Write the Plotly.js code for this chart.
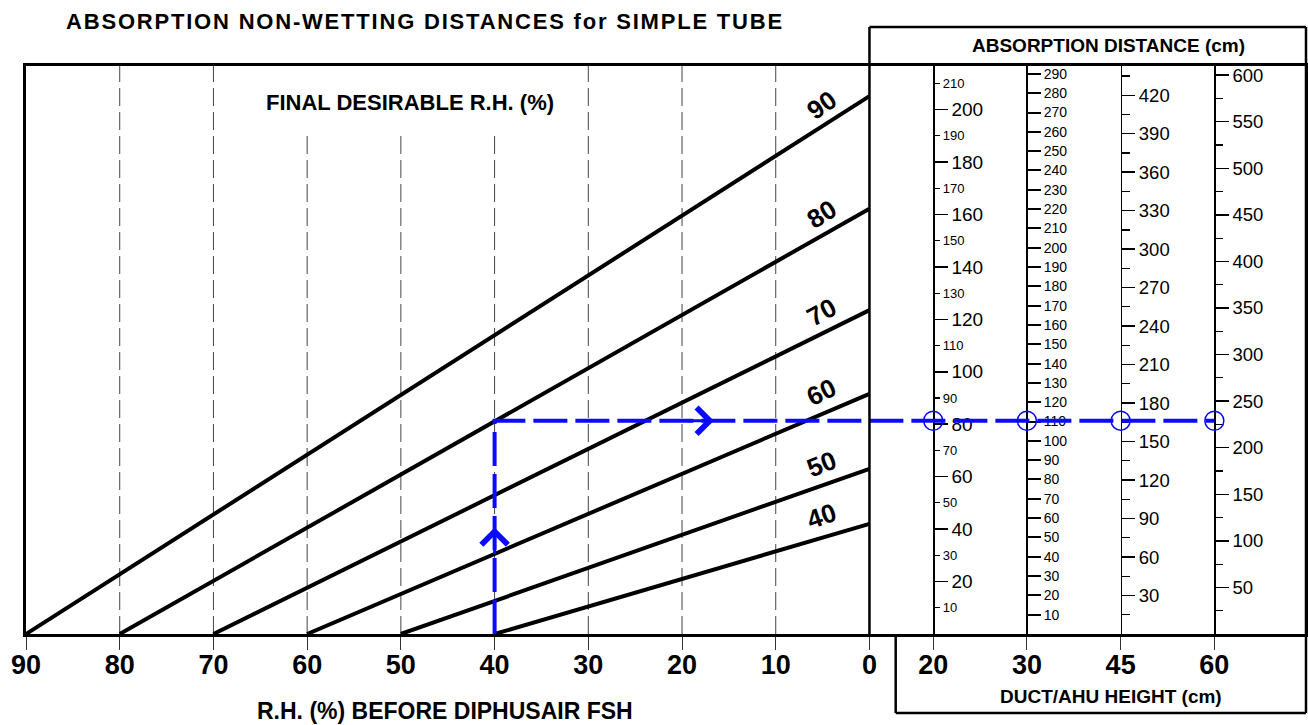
<!DOCTYPE html>
<html><head><meta charset="utf-8">
<script src="https://cdn.plot.ly/plotly-3.0.1.min.js"></script>
<style>html,body{margin:0;padding:0;background:#fff;}#chart{width:1308px;height:725px;}</style>
</head><body><div id="chart"></div>
<script>
// ---------------- data ----------------
const finalRH     = [90, 80, 70, 60, 50, 40];                 // FINAL DESIRABLE R.H. (%)
const distAtZero  = [205.1, 162.2, 123.5, 91.6, 63.0, 42.0];  // 20 cm scale value reached at R.H. before = 0
const rhTicks     = [90, 80, 70, 60, 50, 40, 30, 20, 10, 0];
const gridRH      = [80, 70, 60, 50, 40, 30, 20, 10];
const ductHeights = [20, 30, 45, 60];
const exampleRH   = 40;                                        // worked example: R.H. before
const exampleReadings = [81.3, 110.4, 166.3, 229.0];           // absorption distance on each duct scale
const scale20Major = [20, 40, 60, 80, 100, 120, 140, 160, 180, 200];
const scale20Minor = [10, 30, 50, 70, 90, 110, 130, 150, 170, 190, 210];
const scale30Ticks = [10,20,30,40,50,60,70,80,90,100,110,120,130,140,150,160,170,180,190,200,210,220,230,240,250,260,270,280,290];
const scale45Major = [30,60,90,120,150,180,210,240,270,300,330,360,390,420];
const scale45Minor = [15,45,75,105,135,165,195,225,255,285,315,345,375,405,435];
const scale60Major = [50,100,150,200,250,300,350,400,450,500,550,600];
const scale60Minor = [25,75,125,175,225,275,325,375,425,475,525,575];

// ---------------- layout constants ----------------
const FONT = '"Liberation Sans", Arial, Helvetica, sans-serif';
const BLUE = '#0a0aff';
const X_RANGE = [90, -46.58];
const SCALE_X = [-6.8, -16.8, -26.8, -36.8];          // where the duct scales stand on the x axis
const SCALE_TOP = [216.6, 294.1, 442.8, 609.8];        // top of each duct scale
const W = 1280, H = 568;
const xSpan = X_RANGE[0] - X_RANGE[1];
const paperX = v => (X_RANGE[0] - v) / xSpan;
const pxPerX = W / xSpan, pxPerY = H / SCALE_TOP[0];

const traces = [];
finalRH.forEach((f, i) => {
  traces.push({type: 'scatter', mode: 'lines', x: [f, 0], y: [0, distAtZero[i]],
    line: {color: '#000', width: 4}, hoverinfo: 'skip', showlegend: false});
});
// worked-example path (drawn against the 20 cm scale, which shares the main y range)
traces.push({type: 'scatter', mode: 'lines', yaxis: 'y2',
  x: [exampleRH, exampleRH, SCALE_X[3]], y: [0, exampleReadings[0], exampleReadings[0]],
  line: {color: BLUE, width: 4, dash: '34px,8px'}, hoverinfo: 'skip', showlegend: false});
// reading circles on each duct scale
const circleAxes = ['y6', 'y3', 'y4', 'y5'];
exampleReadings.forEach((r, i) => {
  traces.push({type: 'scatter', mode: 'markers', x: [SCALE_X[i]], y: [r], yaxis: circleAxes[i],
    marker: {symbol: 'circle-open', size: 19, color: BLUE, line: {width: 1.5, color: BLUE}},
    hoverinfo: 'skip', showlegend: false});
});

const baseScale = (i, extra) => Object.assign({
  overlaying: 'y', anchor: 'free', position: paperX(SCALE_X[i]), side: 'right',
  range: [0, SCALE_TOP[i]], showline: true, linecolor: '#000', linewidth: 1.5,
  ticks: 'outside', ticklen: 13, tickwidth: 1.5, tickcolor: '#000', tickmode: 'array',
  showgrid: false, zeroline: false, layer: 'below traces', fixedrange: true,
  tickfont: {family: FONT, size: 19, color: '#000'}
}, extra);

const shapes = [];
gridRH.forEach(v => {
  shapes.push({type: 'line', xref: 'x', yref: 'paper', x0: v, x1: v, y0: 0,
    y1: (v <= 60 && v >= 40) ? 0.887 : 1, layer: 'below',
    line: {color: '#444', width: 1, dash: '18px,6px'}});
});
const yHead = 1 + 39 / H, yDuct = -79 / H, xDuct = (895.7 - 26) / W;
shapes.push({type: 'line', xref: 'paper', yref: 'paper', x0: paperX(0), x1: paperX(0), y0: 0, y1: yHead, line: {color: '#000', width: 2.5}});
shapes.push({type: 'line', xref: 'paper', yref: 'paper', x0: paperX(0), x1: 1, y0: yHead, y1: yHead, line: {color: '#000', width: 2.5}});
shapes.push({type: 'line', xref: 'paper', yref: 'paper', x0: 1, x1: 1, y0: yDuct, y1: yHead, line: {color: '#000', width: 2.5}});
shapes.push({type: 'line', xref: 'paper', yref: 'paper', x0: xDuct, x1: xDuct, y0: 0, y1: yDuct, line: {color: '#000', width: 2.5}});
shapes.push({type: 'line', xref: 'paper', yref: 'paper', x0: xDuct, x1: 1, y0: yDuct, y1: yDuct, line: {color: '#000', width: 2.5}});

const annotations = [];
const labelAt = 5.1;
finalRH.forEach((f, i) => {
  const yv = distAtZero[i] * (1 - labelAt / f);
  const ang = Math.atan(distAtZero[i] * pxPerY / (f * pxPerX)) * 180 / Math.PI;
  annotations.push({x: labelAt, y: yv, xref: 'x', yref: 'y', text: String(f), showarrow: false,
    textangle: -(ang + 2.5), yshift: 22,
    font: {family: FONT, size: 26, color: '#000', weight: 'bold'}});
});
// arrows on the example path
annotations.push({x: exampleRH, y: exampleReadings[0] / 2, xref: 'x', yref: 'y', text: '', showarrow: true,
  ax: 0, ay: 28, arrowhead: 4, arrowsize: 1.7, arrowwidth: 3, arrowcolor: BLUE});
annotations.push({x: (exampleRH + SCALE_X[0]) / 2, y: exampleReadings[0], xref: 'x', yref: 'y', text: '', showarrow: true,
  ax: -28, ay: 0, arrowhead: 4, arrowsize: 1.7, arrowwidth: 3, arrowcolor: BLUE});
const txt = (text, x, y, size) => ({text, x, y, xref: 'paper', yref: 'paper', showarrow: false,
  xanchor: 'center', yanchor: 'middle', font: {family: FONT, size, color: '#000', weight: 'bold'}});
annotations.push(txt('FINAL DESIRABLE R.H. (%)', (410 - 26) / W, (634 - 103) / H, 22));
annotations.push(txt('ABSORPTION DISTANCE (cm)', (1108 - 26) / W, (634 - 45) / H, 19));
annotations.push(txt('DUCT/AHU HEIGHT (cm)', (1111 - 26) / W, (634 - 696) / H, 19));
annotations.push(txt('R.H. (%) BEFORE DIPHUSAIR FSH', (444.5 - 26) / W, (634 - 711) / H, 23));

const layout = {
  width: 1308, height: 725,
  margin: {l: 26, r: 2, t: 66, b: 91},
  paper_bgcolor: '#fff', plot_bgcolor: '#fff',
  showlegend: false,
  title: {text: '<span style="letter-spacing:1.8px">ABSORPTION NON-WETTING DISTANCES for SIMPLE TUBE</span>',
    x: 425 / 1308, xref: 'container', xanchor: 'center', y: 1 - 21 / 725, yref: 'container', yanchor: 'middle',
    font: {family: FONT, size: 22, color: '#000', weight: 'bold'}},
  xaxis: {range: X_RANGE, showline: true, mirror: true, linecolor: '#000', linewidth: 3,
    ticks: 'outside', ticklen: 13, tickwidth: 1, tickcolor: '#333', tickmode: 'array',
    tickvals: rhTicks.concat(SCALE_X), ticktext: rhTicks.map(String).concat(ductHeights.map(String)),
    tickfont: {family: FONT, size: 27, color: '#000', weight: 'bold'}, ticklabelstandoff: -8,
    showgrid: false, zeroline: false, fixedrange: true},
  yaxis: {range: [0, SCALE_TOP[0]], showline: true, mirror: true, linecolor: '#000', linewidth: 3,
    ticks: '', showticklabels: false, showgrid: false, zeroline: false, fixedrange: true},
  yaxis2: baseScale(0, {tickvals: scale20Major}),
  yaxis3: baseScale(1, {tickvals: scale30Ticks, linewidth: 2, tickwidth: 2, tickfont: {family: FONT, size: 14, color: '#000'}}),
  yaxis4: baseScale(2, {tickvals: scale45Major, tickfont: {family: FONT, size: 18.5, color: '#000'},
    minor: {tickmode: 'array', tickvals: scale45Minor, ticks: 'outside', ticklen: 8, tickwidth: 1.2, tickcolor: '#000'}}),
  yaxis5: baseScale(3, {tickvals: scale60Major, tickfont: {family: FONT, size: 18.5, color: '#000'},
    minor: {tickmode: 'array', tickvals: scale60Minor, ticks: 'outside', ticklen: 7, tickwidth: 1.2, tickcolor: '#000'}}),
  yaxis6: baseScale(0, {tickvals: scale20Minor, ticklen: 6, tickwidth: 1.2, showline: false,
    tickfont: {family: FONT, size: 13, color: '#000'}}),
  shapes, annotations
};
Plotly.newPlot('chart', traces, layout, {displayModeBar: false, staticPlot: true});
</script></body></html>
